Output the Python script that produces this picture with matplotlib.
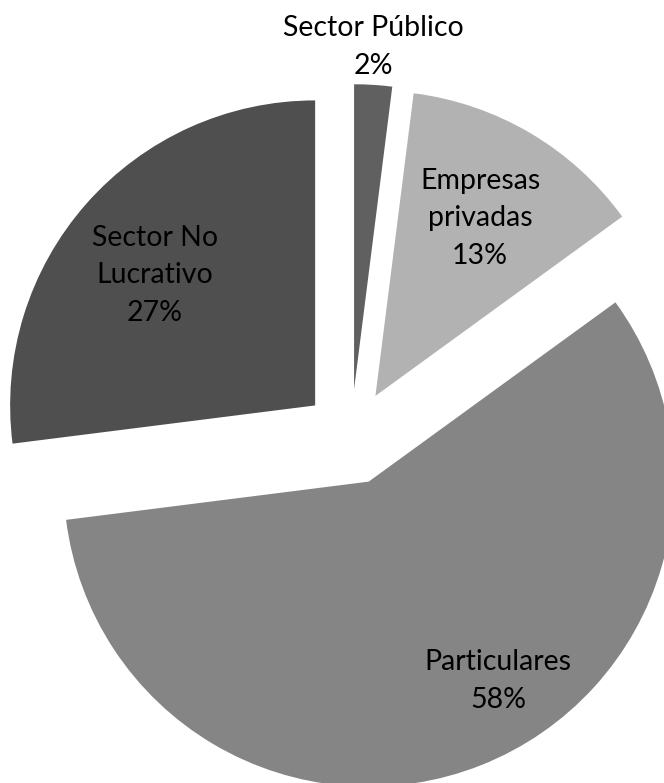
import matplotlib
matplotlib.use("Agg")
import matplotlib.pyplot as plt

categories = ["Sector Público", "Empresas\nprivadas", "Particulares", "Sector No\nLucrativo"]
values = [2, 13, 58, 27]
colors = ["#606060", "#b2b2b2", "#858585", "#4f4f4f"]
explode = [0.157] * 4

# label anchor positions (in pie-radius units relative to pie centre)
label_pos = [(0.072, 1.279), (0.423, 0.718), (0.482, -0.800), (-0.643, 0.531)]

plt.rcParams['font.family'] = ['Lato', 'DejaVu Sans']

fig = plt.figure(figsize=(6.64, 7.83), dpi=100)
ax = fig.add_axes([0, 0, 1, 1])
ax.pie(values, colors=colors, explode=explode, startangle=90, counterclock=False,
       radius=1.0, wedgeprops=dict(linewidth=0))
ax.set_xlim(-1.151, 1.026)
ax.set_ylim(-1.134, 1.433)
ax.set_aspect('auto')
ax.axis('off')

for cat, v, (x, y) in zip(categories, values, label_pos):
    ax.text(x, y, f"{cat}\n{v}%", ha='center', va='center', fontsize=20.5,
            linespacing=1.55, color='#000000')

fig.savefig("out.png", dpi=100)
